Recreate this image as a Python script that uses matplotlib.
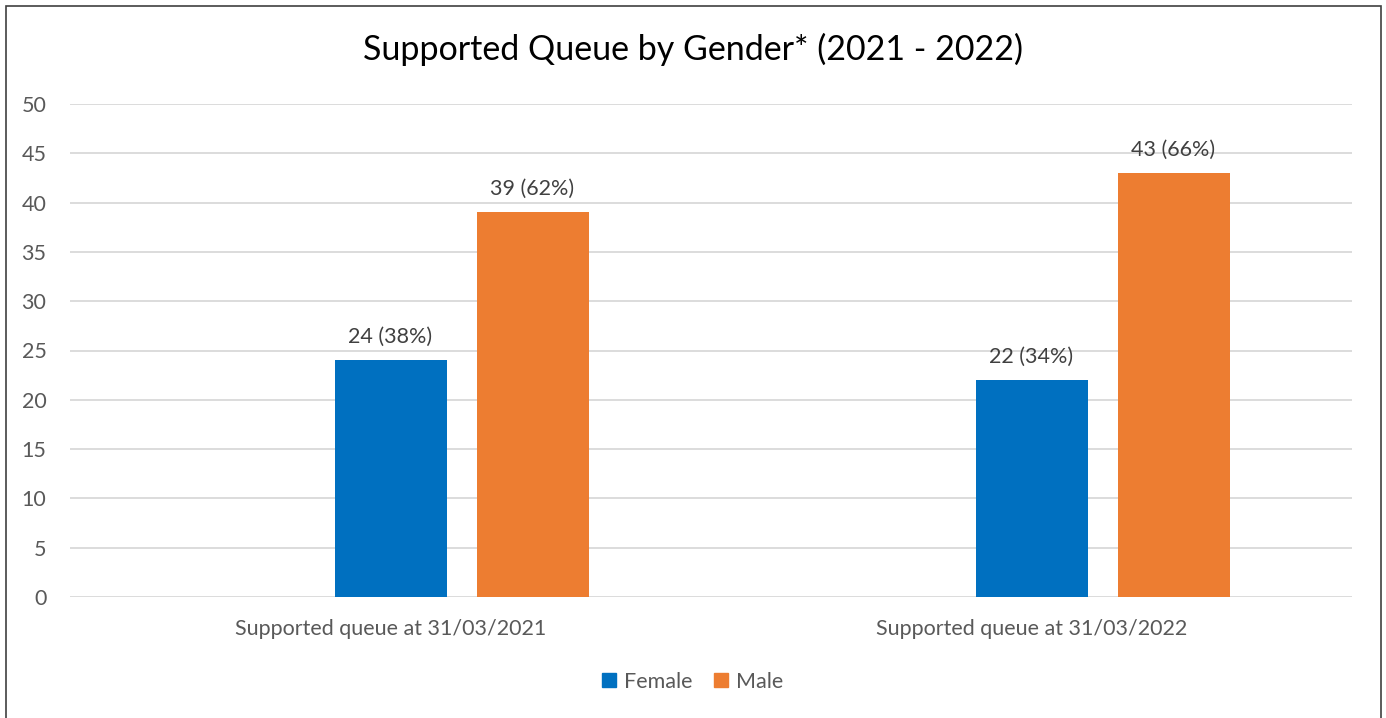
import matplotlib.pyplot as plt
import numpy as np
from matplotlib.patches import Patch, Rectangle

categories = ["Supported queue at 31/03/2021", "Supported queue at 31/03/2022"]
female = [24, 22]
male = [39, 43]
female_labels = ["24 (38%)", "22 (34%)"]
male_labels = ["39 (62%)", "43 (66%)"]

plt.rcParams['font.family'] = ['Lato', 'DejaVu Sans']

W, H = 1386, 718
fig = plt.figure(figsize=(W / 100, H / 100), dpi=100)
ax = fig.add_axes([70 / W, (H - 597) / H, (1352 - 70) / W, (597 - 104) / H])

x = np.arange(len(categories))
bw = 112 / 641
step = 142 / 641
# Excel layout: an empty first series sits left of Female, so Female is at the category centre
b1 = ax.bar(x, female, width=bw, color='#0070C0', label='Female')
b2 = ax.bar(x + step, male, width=bw, color='#ED7D31', label='Male')

for bars, labs in [(b1, female_labels), (b2, male_labels)]:
    for rect, lab in zip(bars, labs):
        ax.annotate(lab, (rect.get_x() + rect.get_width() / 2, rect.get_height()),
                    xytext=(0, 9.5), textcoords='offset points', ha='center', va='bottom',
                    fontsize=15.5, color='#404040')

ax.set_xlim(-0.5, len(categories) - 0.5)
ax.set_ylim(0, 50)
ax.set_yticks(range(0, 51, 5))
ax.set_xticks(x)
ax.set_xticklabels(categories)
ax.tick_params(axis='both', length=0, labelsize=15.5, labelcolor='#595959')
ax.tick_params(axis='y', pad=17)
ax.tick_params(axis='x', pad=16)
ax.yaxis.grid(True, color='#D9D9D9', linewidth=1.3)
ax.set_axisbelow(True)
for s in ax.spines.values():
    s.set_visible(False)

fig.text(0.5, 1 - 49 / H, "Supported Queue by Gender* (2021 - 2022)", ha='center', va='center',
         fontsize=24.5, color='#000000')

handles = [Patch(color='#0070C0', label='Female'), Patch(color='#ED7D31', label='Male')]
fig.legend(handles=handles, loc='center', bbox_to_anchor=(0.5, 1 - 682 / H), ncol=2,
           frameon=False, fontsize=15.5, labelcolor='#595959', handlelength=0.62, handleheight=0.62,
           handletextpad=0.4, columnspacing=1.0)

fig.patches.append(Rectangle((5.5 / W, -0.05), 1375 / W, 1.05 - 5.5 / H, transform=fig.transFigure,
                             fill=False, edgecolor='#404040', linewidth=1.2))

fig.savefig('out.png', dpi=100)
